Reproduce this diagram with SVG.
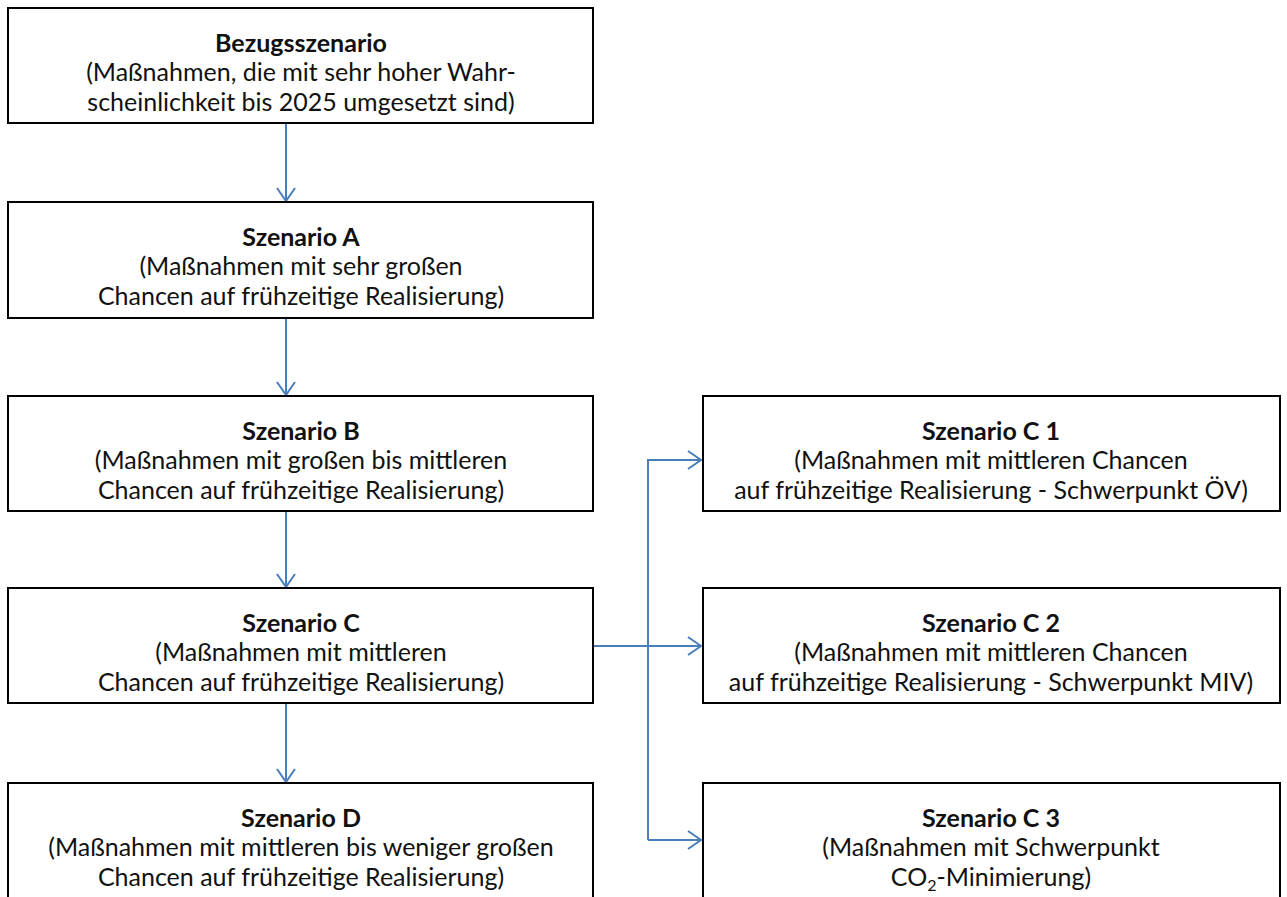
<svg xmlns="http://www.w3.org/2000/svg" width="1287" height="897" viewBox="0 0 1287 897">
<style>
.box{fill:#fff;stroke:#000;stroke-width:2}
.t{font-family:Lato,"Open Sans","Liberation Sans",sans-serif;font-size:25px;fill:#111;text-anchor:middle}
.b{font-weight:bold}
.c{fill:none;stroke:#4a7ebb;stroke-width:2}
</style>
<defs>
<marker id="ah" markerWidth="20" markerHeight="20" refX="14" refY="10" orient="auto" markerUnits="userSpaceOnUse">
<path d="M1,1 L14,10 L1,19" fill="none" stroke="#4a7ebb" stroke-width="2"/>
</marker>
</defs>
<rect width="1287" height="897" fill="#fff"/>
<g id="connectors">
<line class="c" x1="286" y1="124" x2="286" y2="201" marker-end="url(#ah)"/>
<line class="c" x1="286" y1="318" x2="286" y2="395" marker-end="url(#ah)"/>
<line class="c" x1="286" y1="511" x2="286" y2="587" marker-end="url(#ah)"/>
<line class="c" x1="286" y1="703" x2="286" y2="782" marker-end="url(#ah)"/>
<line class="c" x1="593" y1="646" x2="701" y2="646" marker-end="url(#ah)"/>
<path class="c" d="M648,840 L648,460 L701,460" marker-end="url(#ah)"/>
<line class="c" x1="648" y1="840" x2="701" y2="840" marker-end="url(#ah)"/>
</g>
<g id="bezug">
<rect class="box" x="8" y="8" width="585" height="115"/>
<text class="t b" x="301" y="52">Bezugsszenario</text>
<text class="t" x="301" y="81">(Maßnahmen, die mit sehr hoher Wahr-</text>
<text class="t" x="301" y="111">scheinlichkeit bis 2025 umgesetzt sind)</text>
</g>
<g id="szA">
<rect class="box" x="8" y="202" width="585" height="116"/>
<text class="t b" x="301" y="246">Szenario A</text>
<text class="t" x="301" y="275">(Maßnahmen mit sehr großen</text>
<text class="t" x="301" y="305">Chancen auf frühzeitige Realisierung)</text>
</g>
<g id="szB">
<rect class="box" x="8" y="396" width="585" height="115"/>
<text class="t b" x="301" y="440">Szenario B</text>
<text class="t" x="301" y="469">(Maßnahmen mit großen bis mittleren</text>
<text class="t" x="301" y="499">Chancen auf frühzeitige Realisierung)</text>
</g>
<g id="szC">
<rect class="box" x="8" y="588" width="585" height="115"/>
<text class="t b" x="301" y="632">Szenario C</text>
<text class="t" x="301" y="661">(Maßnahmen mit mittleren</text>
<text class="t" x="301" y="691">Chancen auf frühzeitige Realisierung)</text>
</g>
<g id="szD">
<rect class="box" x="8" y="783" width="585" height="125"/>
<text class="t b" x="301" y="827">Szenario D</text>
<text class="t" x="301" y="856">(Maßnahmen mit mittleren bis weniger großen</text>
<text class="t" x="301" y="886">Chancen auf frühzeitige Realisierung)</text>
</g>
<g id="szC1">
<rect class="box" x="703" y="396" width="577" height="115"/>
<text class="t b" x="991" y="440">Szenario C 1</text>
<text class="t" x="991" y="469">(Maßnahmen mit mittleren Chancen</text>
<text class="t" x="991" y="499">auf frühzeitige Realisierung - Schwerpunkt ÖV)</text>
</g>
<g id="szC2">
<rect class="box" x="703" y="588" width="577" height="115"/>
<text class="t b" x="991" y="632">Szenario C 2</text>
<text class="t" x="991" y="661">(Maßnahmen mit mittleren Chancen</text>
<text class="t" x="991" y="691">auf frühzeitige Realisierung - Schwerpunkt MIV)</text>
</g>
<g id="szC3">
<rect class="box" x="703" y="783" width="577" height="125"/>
<text class="t b" x="991" y="827">Szenario C 3</text>
<text class="t" x="991" y="856">(Maßnahmen mit Schwerpunkt</text>
<text class="t" x="991" y="886">CO<tspan font-size="16" dy="5">2</tspan><tspan dy="-5">-Minimierung)</tspan></text>
</g>
</svg>
